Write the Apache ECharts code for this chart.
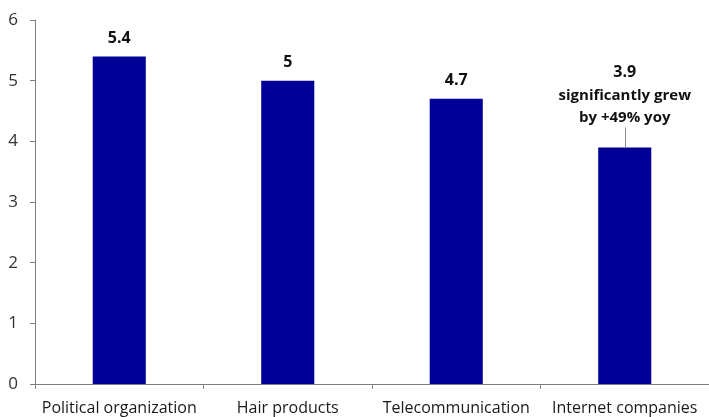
<!DOCTYPE html>
<html>
<head>
<meta charset="utf-8">
<script src="https://cdn.jsdelivr.net/npm/echarts@6/dist/echarts.min.js"></script>
<style>
  html, body { margin: 0; padding: 0; background: #fff; }
  #chart { width: 709px; height: 417px; }
</style>
</head>
<body>
<div id="chart"></div>
<script>
// Categories and values
const categories = ['Political organization', 'Hair products', 'Telecommunication', 'Internet companies'];
const values = [5.4, 5, 4.7, 3.9];
const yTicks = [0, 1, 2, 3, 4, 5, 6];
const noteText = 'significantly grew\nby +49% yoy';
const noteIndex = 3;
const noteLineTop = 4.23;

const FONT = '"Open Sans", "Noto Sans", sans-serif';

const barData = values.map((v, i) => {
  const item = { value: v };
  if (i === noteIndex) {
    item.label = {
      formatter: '{v|' + v + '}\n{n|' + noteText.split('\n').join('}\n{n|') + '}',
      distance: 19,
      rich: {
        v: { fontFamily: FONT, fontWeight: 'bold', fontSize: 16, color: '#111', lineHeight: 24, align: 'center' },
        n: { fontFamily: FONT, fontWeight: 'bold', fontSize: 15, color: '#111', lineHeight: 22, align: 'center' }
      }
    };
  }
  return item;
});

const chart = echarts.init(document.getElementById('chart'), null, { renderer: 'canvas' });
chart.setOption({
  animation: false,
  grid: { left: 35, right: 0, top: 20, bottom: 33, containLabel: false },
  xAxis: {
    type: 'category',
    data: categories,
    boundaryGap: true,
    axisLine: { show: true, lineStyle: { color: '#7f7f7f', width: 1 } },
    axisTick: { show: true, alignWithLabel: false, length: 5, lineStyle: { color: '#7f7f7f' } },
    axisLabel: { interval: 0, margin: 16, fontFamily: FONT, fontSize: 16, color: '#1a1a1a' },
    splitLine: { show: false }
  },
  yAxis: {
    type: 'value',
    min: yTicks[0],
    max: yTicks[yTicks.length - 1],
    interval: 1,
    axisLine: { show: true, lineStyle: { color: '#7f7f7f', width: 1 } },
    axisTick: { show: true, length: 5, lineStyle: { color: '#7f7f7f' } },
    axisLabel: { margin: 17, fontFamily: FONT, fontSize: 17, color: '#333' },
    splitLine: { show: false }
  },
  series: [{
    type: 'bar',
    data: barData,
    barWidth: '31.5%',
    itemStyle: { color: '#000096' },
    label: {
      show: true,
      position: 'top',
      distance: 10,
      fontFamily: FONT,
      fontWeight: 'bold',
      fontSize: 16,
      color: '#111'
    },
    markLine: {
      silent: true,
      symbol: 'none',
      label: { show: false },
      lineStyle: { color: '#8c8c8c', width: 1, type: 'solid' },
      data: [[
        { coord: [categories[noteIndex], values[noteIndex]] },
        { coord: [categories[noteIndex], noteLineTop] }
      ]]
    }
  }]
});
</script>
</body>
</html>
